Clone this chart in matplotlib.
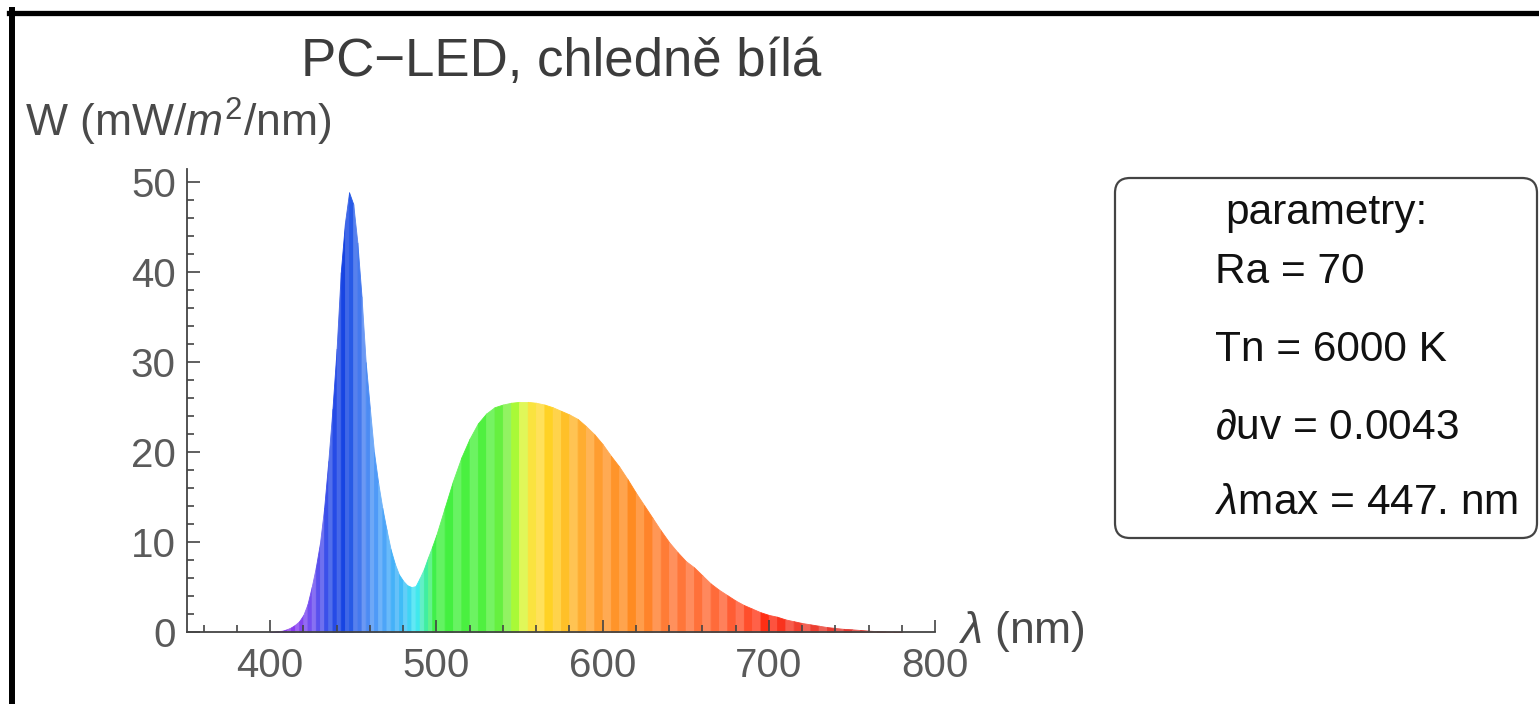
import numpy as np
import matplotlib.pyplot as plt
from matplotlib.colors import LinearSegmentedColormap
from matplotlib.patches import FancyBboxPatch
from matplotlib.lines import Line2D
from matplotlib.ticker import MultipleLocator

# === Data ===
wavelength = [400, 405, 407.5, 410, 412.5, 415, 417.5, 420, 422.5, 425, 427.5,
              430, 432.5, 435, 437.5, 440, 442.5, 445, 447.5, 450, 452.5, 455,
              457.5, 460, 462.5, 465, 467.5, 470, 472.5, 475, 477.5, 480, 482.5,
              485, 487.5, 490, 492.5, 495, 497.5, 500, 505, 510, 515, 520, 525,
              530, 535, 540, 545, 550, 555, 560, 565, 570, 575, 580, 585, 590,
              595, 600, 605, 610, 615, 620, 625, 630, 635, 640, 645, 650, 655,
              660, 665, 670, 675, 680, 685, 690, 695, 700, 705, 710, 715, 720,
              725, 730, 735, 740, 745, 750, 755, 760, 765, 770, 775, 780]
irradiance = [0.0, 0.1, 0.15, 0.3, 0.5, 0.8, 1.2, 1.9, 3.1, 5.0, 7.2,
              9.9, 13.8, 19.0, 24.8, 31.5, 40.0, 45.5, 48.9, 47.6, 43.3, 37.3,
              30.0, 24.9, 20.0, 16.6, 13.8, 11.4, 9.2, 7.6, 6.4, 5.7, 5.2,
              5.0, 5.1, 6.0, 7.0, 8.3, 9.5, 10.8, 13.8, 16.8, 19.4, 21.5, 23.2,
              24.3, 25.0, 25.3, 25.5, 25.6, 25.6, 25.5, 25.3, 25.0, 24.6, 24.2, 23.7, 22.9,
              22.0, 20.9, 19.6, 18.4, 17.0, 15.5, 14.1, 12.7, 11.3, 10.0, 8.9, 7.9, 7.2,
              6.3, 5.4, 4.7, 4.1, 3.5, 3.0, 2.6, 2.2, 1.9, 1.7, 1.4, 1.2, 1.0,
              0.85, 0.7, 0.55, 0.45, 0.35, 0.3, 0.22, 0.15, 0.1, 0.07, 0.04, 0.02]

x_ticks = [400, 500, 600, 700, 800]
y_ticks = [0, 10, 20, 30, 40, 50]

title = "PC\u2212LED, chledně bílá"
params = ["parametry:", "Ra = 70", "Tn = 6000 K", r"$\partial$uv = 0.0043", r"$\lambda$max = 447. nm"]

# === Style ===
plt.rcParams['font.family'] = ['Liberation Sans', 'DejaVu Sans']
plt.rcParams['mathtext.fontset'] = 'custom'
plt.rcParams['mathtext.rm'] = 'Liberation Sans'
plt.rcParams['mathtext.it'] = 'Liberation Sans:italic'

# spectrum colour look-up (wavelength -> colour)
spec_anchors = [(380, '#7a00d0'), (415, '#8a40f0'), (425, '#7050f0'), (435, '#3050e8'),
                (445, '#1040e0'), (455, '#4a80f0'), (465, '#50a0f8'), (478, '#40b8f8'),
                (488, '#40e8f0'), (495, '#40f080'), (500, '#40f040'), (530, '#50f040'),
                (545, '#80f040'), (550, '#c8ff30'), (558, '#ffe040'), (570, '#ffd020'),
                (585, '#ffb030'), (600, '#ff9a30'), (620, '#ff8a20'), (640, '#ff7a3a'),
                (670, '#ff6a3a'), (690, '#ff4a2a'), (700, '#ff2a10'), (720, '#f04030'),
                (780, '#d03030')]
lo, hi = spec_anchors[0][0], spec_anchors[-1][0]
spec_cmap = LinearSegmentedColormap.from_list(
    'spec', [((w - lo) / (hi - lo), c) for w, c in spec_anchors])

fig = plt.figure(figsize=(15.39, 7.04), dpi=100)
ax = fig.add_axes([187 / 1539, 1 - 632 / 704, (935 - 187) / 1539, (632 - 169) / 704])

lam = np.array(wavelength)
W = np.array(irradiance)
for i in range(len(lam) - 1):
    mid = 0.5 * (lam[i] + lam[i + 1])
    c = np.array(spec_cmap((mid - lo) / (hi - lo))[:3])
    if i % 2:
        c = c + (1 - c) * 0.18
    ax.fill_between(lam[i:i + 2], W[i:i + 2], color=c, lw=0.6, edgecolor=c)

ax.set_xlim(350, 800)
ax.set_ylim(0, 51.5)
for s in ['top', 'right']:
    ax.spines[s].set_visible(False)
for s in ['left', 'bottom']:
    ax.spines[s].set_color('#444444')
    ax.spines[s].set_linewidth(1.3)
ax.set_xticks(x_ticks)
ax.set_yticks(y_ticks)
ax.xaxis.set_minor_locator(MultipleLocator(20))
ax.yaxis.set_minor_locator(MultipleLocator(2))
ax.tick_params(which='both', direction='in', color='#444444', width=1.2)
ax.tick_params(which='major', length=9, labelsize=29, labelcolor='#5a5a5a')
ax.tick_params(which='minor', length=5)
ax.tick_params(axis='x', pad=11)
ax.tick_params(axis='y', pad=8)

fig.text(561 / 1539, 1 - 62 / 704, title, fontsize=38, color='#3c3c3c',
         ha='center', va='center')
fig.text(25 / 1539, 1 - 122 / 704, r"W (mW/$m^2$/nm)", fontsize=32,
         color='#4a4a4a', ha='left', va='center')
fig.text(958 / 1539, 1 - 632 / 704, r"$\lambda$ (nm)", fontsize=32,
         color='#4a4a4a', ha='left', va='center')

# parameter box
box = FancyBboxPatch((11.15, 1.66), 4.22, 3.60, boxstyle="round,pad=0,rounding_size=0.15",
                     transform=fig.dpi_scale_trans, facecolor='white',
                     edgecolor='#444444', lw=1.6)
fig.add_artist(box)
rows_y = [213, 272, 350, 428, 503]
rows_x = [1225, 1215, 1215, 1215, 1215]
for txt, xp, yp in zip(params, rows_x, rows_y):
    fig.text(xp / 1539, 1 - yp / 704, txt, fontsize=30.5, color='#111111',
             ha='left', va='center')

# black screenshot frame (top and left)
fig.add_artist(Line2D([0.09, 15.39], [6.915, 6.915], color='black', lw=3.8,
                      transform=fig.dpi_scale_trans))
fig.add_artist(Line2D([0.12, 0.12], [0, 6.94], color='black', lw=4.3,
                      transform=fig.dpi_scale_trans))

fig.savefig("out.png", dpi=100)
